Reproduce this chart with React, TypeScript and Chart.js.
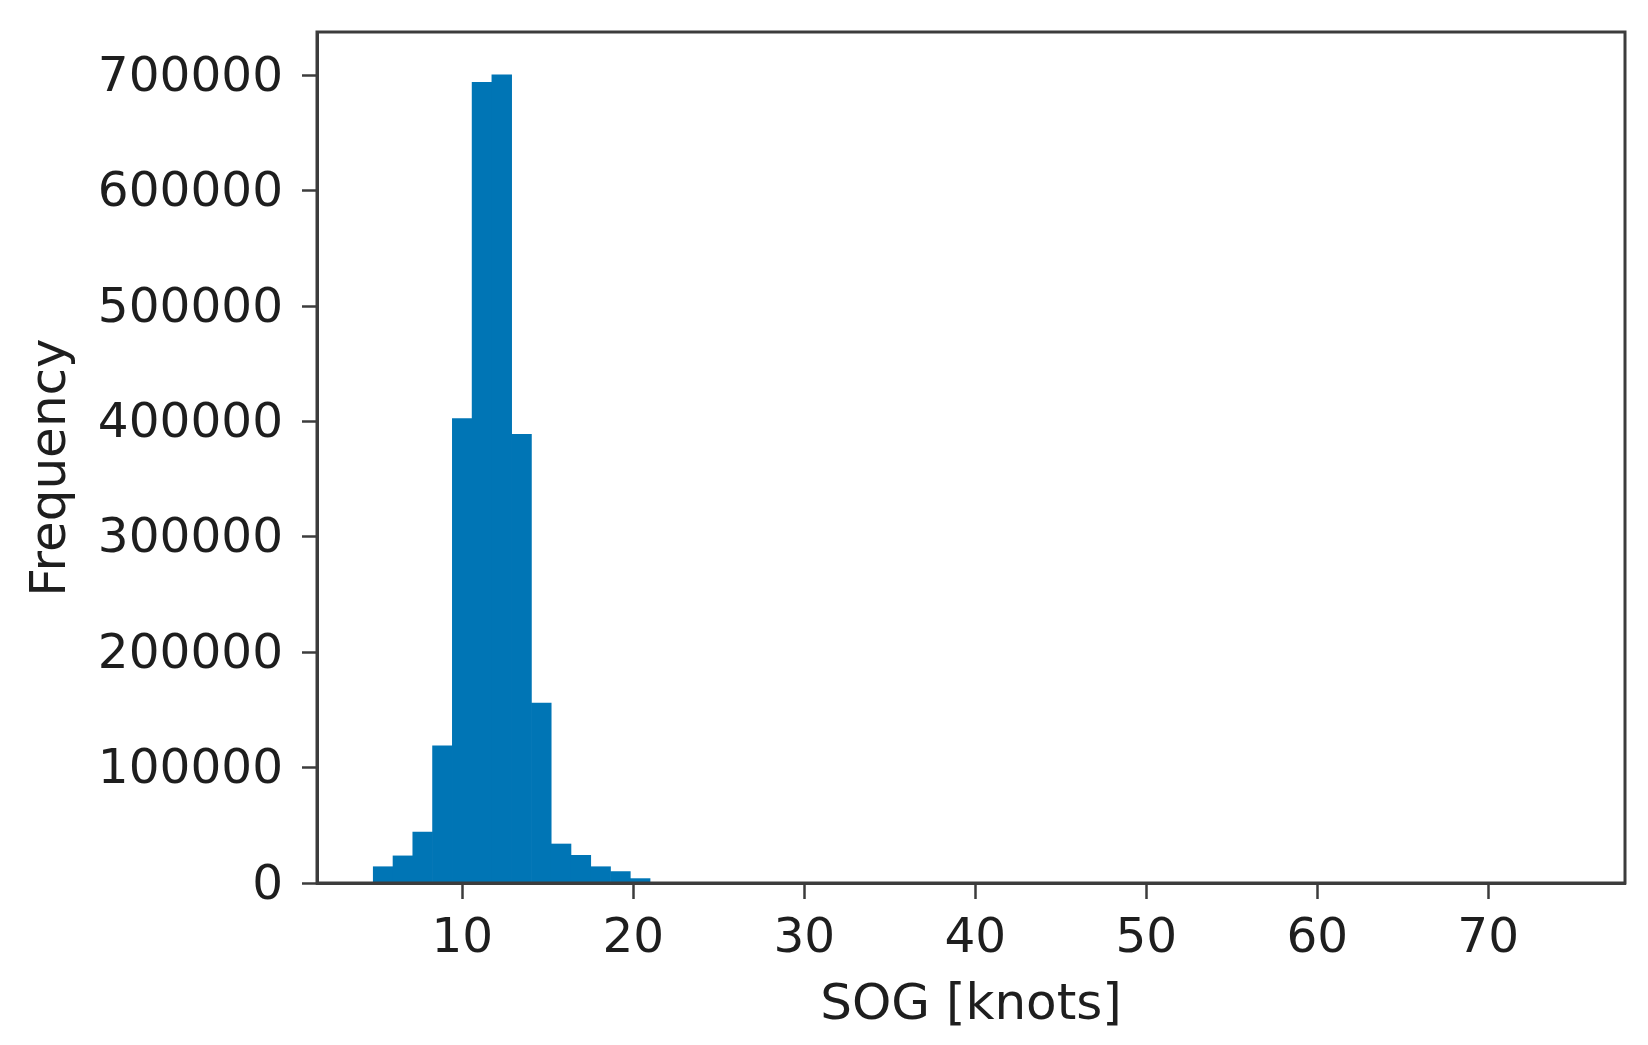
import React, { useEffect, useRef } from "react";
import { Chart, registerables } from "chart.js";

Chart.register(...registerables);

// Histogram bins (centre of each bin, knots) and their counts
const binCenters = [
  5.368, 6.524, 7.681, 8.837, 9.994, 11.15, 12.306, 13.463, 14.619, 15.776,
  16.932, 18.088, 19.245, 20.401,
];
const frequencies = [
  14100, 23500, 44200, 118800, 402500, 693800, 700300, 388900, 156000, 33800,
  24000, 14100, 9900, 3800,
];

const xTicks = [10, 20, 30, 40, 50, 60, 70];
const xTickLabels = ["10", "20", "30", "40", "50", "60", "70"];
const yTicks = [0, 100000, 200000, 300000, 400000, 500000, 600000, 700000];
const yTickLabels = [
  "0",
  "100000",
  "200000",
  "300000",
  "400000",
  "500000",
  "600000",
  "700000",
];

const xAxisLabel = "SOG [knots]";
const yAxisLabel = "Frequency";

const X_MIN = 1.5;
const X_MAX = 78.0;
const Y_MAX = 737500;

const BAR_COLOR = "#0075b5";
const AXIS_COLOR = "#3c3c3c";
const TEXT_COLOR = "#1e1e1e";
const FONT = "DejaVu Sans";

const framePlugin = {
  id: "frame",
  afterDraw(chart: any) {
    const { ctx, chartArea } = chart;
    const { left, top, right, bottom } = chartArea;
    ctx.save();
    ctx.strokeStyle = AXIS_COLOR;
    ctx.lineWidth = 3;
    ctx.strokeRect(left, top, right - left, bottom - top);
    ctx.restore();
  },
};

// y-axis title, drawn slightly below the centre of the axis as in the reference
const yTitlePlugin = {
  id: "yTitle",
  afterDraw(chart: any) {
    const { ctx, chartArea } = chart;
    const cy = (chartArea.top + chartArea.bottom) / 2 + 10;
    ctx.save();
    ctx.translate(52, cy);
    ctx.rotate(-Math.PI / 2);
    ctx.font = `50px "${FONT}"`;
    ctx.fillStyle = TEXT_COLOR;
    ctx.textAlign = "center";
    ctx.textBaseline = "middle";
    ctx.fillText(yAxisLabel, 0, 0);
    ctx.restore();
  },
};

export default function App() {
  const canvasRef = useRef<HTMLCanvasElement | null>(null);

  useEffect(() => {
    document.body.style.margin = "0";
    const canvas = canvasRef.current;
    if (!canvas) return;

    const chart = new Chart(canvas, {
      type: "bar",
      data: {
        datasets: [
          {
            data: binCenters.map((x, i) => ({ x, y: frequencies[i] })),
            backgroundColor: BAR_COLOR,
            borderWidth: 0,
            barPercentage: 1.0,
            categoryPercentage: 1.0,
          },
        ],
      },
      options: {
        responsive: false,
        animation: false,
        devicePixelRatio: 1,
        layout: {
          padding: { left: 0, right: 23, top: 32, bottom: 0 },
        },
        plugins: {
          legend: { display: false },
          tooltip: { enabled: false },
        },
        scales: {
          x: {
            type: "linear",
            min: X_MIN,
            max: X_MAX,
            offset: false,
            grid: {
              offset: false,
              display: true,
              drawOnChartArea: false,
              drawTicks: true,
              tickLength: 16,
              tickWidth: 2.5,
              tickColor: AXIS_COLOR,
            },
            border: { display: true, color: AXIS_COLOR, width: 3 },
            afterBuildTicks: (axis: any) => {
              axis.ticks = xTicks.map((v) => ({ value: v }));
            },
            afterFit: (scale: any) => {
              scale.height = 162;
              scale.paddingLeft = 0;
              scale.paddingRight = 0;
            },
            ticks: {
              autoSkip: false,
              maxRotation: 0,
              padding: 11,
              color: TEXT_COLOR,
              font: { family: FONT, size: 48.5 },
              callback: (value: any) => xTickLabels[xTicks.indexOf(Number(value))] ?? "",
            },
            title: {
              display: true,
              text: xAxisLabel,
              color: TEXT_COLOR,
              font: { family: FONT, size: 50 },
              padding: { top: 0, bottom: 9 },
            },
          },
          y: {
            type: "linear",
            min: 0,
            max: Y_MAX,
            grid: {
              display: true,
              drawOnChartArea: false,
              drawTicks: true,
              tickLength: 15,
              tickWidth: 2.5,
              tickColor: AXIS_COLOR,
            },
            border: { display: true, color: AXIS_COLOR, width: 3 },
            afterBuildTicks: (axis: any) => {
              axis.ticks = yTicks.map((v) => ({ value: v }));
            },
            afterFit: (scale: any) => {
              scale.width = 317;
              scale.paddingTop = 0;
              scale.paddingBottom = 0;
            },
            ticks: {
              autoSkip: false,
              padding: 19,
              labelOffset: 3,
              color: TEXT_COLOR,
              font: { family: FONT, size: 48.5 },
              callback: (value: any) => yTickLabels[yTicks.indexOf(Number(value))] ?? "",
            },
            title: { display: false },
          },
        },
      },
      plugins: [framePlugin, yTitlePlugin],
    });

    return () => {
      chart.destroy();
    };
  }, []);

  return (
    <div style={{ position: "absolute", left: 0, top: 0, width: 1648, height: 1045, background: "#ffffff" }}>
      <canvas ref={canvasRef} width={1648} height={1045} style={{ display: "block", width: 1648, height: 1045 }} />
    </div>
  );
}
